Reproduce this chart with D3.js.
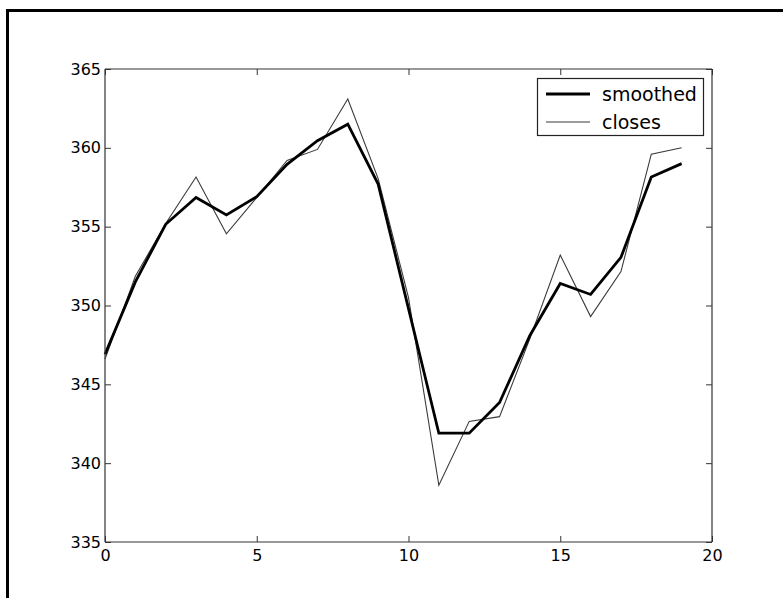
<!DOCTYPE html>
<html>
<head>
<meta charset="utf-8">
<script src="https://cdn.jsdelivr.net/npm/d3@7"></script>
<style>
  html, body { margin: 0; padding: 0; background: #fff; }
  svg { display: block; }
</style>
</head>
<body>
<svg id="chart" width="783" height="598"></svg>
<script>
const xIndex = [0,1,2,3,4,5,6,7,8,9,10,11,12,13,14,15,16,17,18,19];
const smoothed = [346.9,351.5,355.15,356.85,355.75,356.9,358.95,360.45,361.5,357.7,349.8,341.9,341.9,343.85,348.1,351.4,350.7,353.05,358.15,359.0];
const closes = [346.6,351.85,355.2,358.15,354.55,356.85,359.2,359.9,363.1,358.05,350.5,338.6,342.65,342.95,347.9,353.2,349.3,352.15,359.6,360.0];
const xTicks = [0,5,10,15,20];
const yTicks = [335,340,345,350,355,360,365];
const seriesNames = ["smoothed","closes"];

(function(){
const svg = d3.select("#chart");
const pL = 105, pT = 69, pR = 712, pB = 542;
const x = d3.scaleLinear().domain([0,20]).range([pL,pR]);
const y = d3.scaleLinear().domain([335,365]).range([pB,pT]);

// outer frame
svg.append("rect").attr("x",7.5).attr("y",10.5).attr("width",820).attr("height",620)
  .attr("fill","none").attr("stroke","#000").attr("stroke-width",3);

const font = "DejaVu Sans, Bitstream Vera Sans, sans-serif";

// lines
const line = d3.line().x((d,i)=>x(xIndex[i])).y(d=>y(d));
svg.append("path").datum(closes).attr("d",line).attr("fill","none")
  .attr("stroke","#3a3a3a").attr("stroke-width",1.1).attr("stroke-linejoin","miter");
svg.append("path").datum(smoothed).attr("d",line).attr("fill","none")
  .attr("stroke","#000").attr("stroke-width",2.8).attr("stroke-linejoin","miter");

// axes (matplotlib style inward ticks on all sides)
const tl = 6;
const axB = d3.axisBottom(x).tickValues(xTicks).tickSize(-tl).tickPadding(8).tickFormat(d3.format("d"));
const axT = d3.axisTop(x).tickValues(xTicks).tickSize(-tl).tickFormat("");
const axL = d3.axisLeft(y).tickValues(yTicks).tickSize(-tl).tickPadding(4).tickFormat(d3.format("d"));
const axR = d3.axisRight(y).tickValues(yTicks).tickSize(-tl).tickFormat("");

function style(g){
  g.select(".domain").attr("stroke","#333").attr("stroke-width",1.2);
  g.selectAll(".tick line").attr("stroke","#333").attr("stroke-width",1);
  g.selectAll(".tick text").attr("fill","#000").style("font-family",font).style("font-size","16px");
}
svg.append("g").attr("transform",`translate(0,${pB})`).call(axB).call(style)
  .call(g=>g.select(".domain").attr("d",`M${pL},0H${pR}`));
svg.append("g").attr("transform",`translate(0,${pT})`).call(axT).call(style)
  .call(g=>g.select(".domain").attr("d",`M${pL},0H${pR}`));
svg.append("g").attr("transform",`translate(${pL},0)`).call(axL).call(style)
  .call(g=>g.select(".domain").attr("d",`M0,${pT}V${pB}`));
svg.append("g").attr("transform",`translate(${pR},0)`).call(axR).call(style)
  .call(g=>g.select(".domain").attr("d",`M0,${pT}V${pB}`));

// legend
const lg = svg.append("g");
lg.append("rect").attr("x",537.5).attr("y",78.5).attr("width",166).attr("height",57)
  .attr("fill","#fff").attr("stroke","#222").attr("stroke-width",1.2);
const styles = [{c:"#000",w:2.8},{c:"#3a3a3a",w:1.1}];
seriesNames.forEach((n,i)=>{
  const yy = 94 + i*28;
  lg.append("line").attr("x1",546).attr("x2",590).attr("y1",yy).attr("y2",yy)
    .attr("stroke",styles[i].c).attr("stroke-width",styles[i].w);
  lg.append("text").attr("x",602).attr("y",yy).attr("dy","0.35em")
    .style("font-family",font).style("font-size","19px").attr("fill","#000").text(n);
});
})();
</script>
</body>
</html>
